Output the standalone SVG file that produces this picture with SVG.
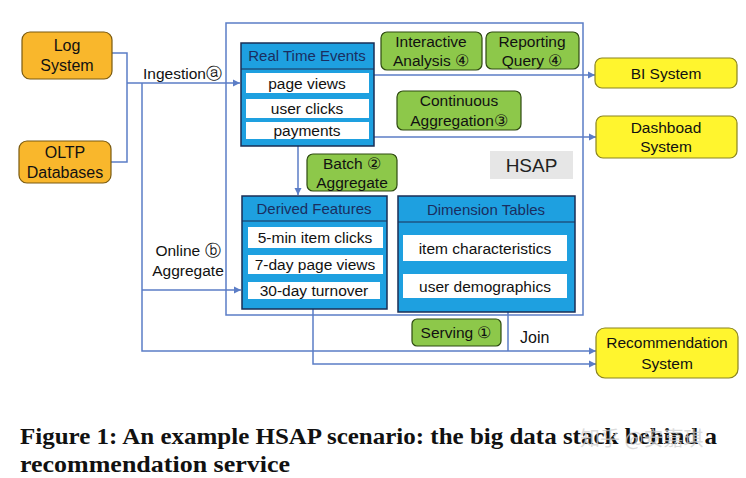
<svg xmlns="http://www.w3.org/2000/svg" width="746" height="478" viewBox="0 0 746 478">
<defs>
<marker id="arr" markerWidth="8" markerHeight="8" refX="7" refY="4" orient="auto" markerUnits="userSpaceOnUse">
<path d="M0,0.5 L7,4 L0,7.5 Z" fill="#5B7DC6"/>
</marker>
<style>
text{font-family:"Liberation Sans",Arial,sans-serif;fill:#111;}
.src rect{fill:#F9B72C;stroke:#7A5A10;stroke-width:1.2;}
.dst rect{fill:#FFF52E;stroke:#8A8420;stroke-width:1.2;}
.grn rect{fill:#8DC84A;stroke:#2E4A10;stroke-width:1.2;}
.tbl .outer{fill:#1EA0E0;stroke:#1A2E55;stroke-width:1.5;}
.tbl .row{fill:#fff;stroke:none;}
.tbl .hd{fill:#1A2E60;font-size:15px;}
.conn{fill:none;stroke:#5B7DC6;stroke-width:1.5;}
.t14{font-size:15.5px;}
.t15{font-size:16px;}
.mid{text-anchor:middle;}
.cap{font-family:"Liberation Serif","Times New Roman",serif;font-weight:bold;font-size:24px;fill:#111;}
</style>
</defs>
<rect width="746" height="478" fill="#fff"/>

<g id="hsap">
<rect x="226" y="23" width="357" height="292" fill="none" stroke="#5B7DC6" stroke-width="1.5"/>
<rect x="490" y="151" width="83" height="28" fill="#E6E6E6"/>
<text x="531.5" y="172" class="mid" style="font-size:19px;fill:#222">HSAP</text>
</g>

<g id="connectors">
<path class="conn" d="M112,53 H127 V162 H111"/>
<path class="conn" d="M127,83 H240" marker-end="url(#arr)"/>
<path class="conn" d="M142,83 V351 H596" marker-end="url(#arr)"/>
<path class="conn" d="M142,290 H241" marker-end="url(#arr)"/>
<path class="conn" d="M374,75 H595" marker-end="url(#arr)"/>
<path class="conn" d="M374,137 H596" marker-end="url(#arr)"/>
<path class="conn" d="M298,146 V195" marker-end="url(#arr)"/>
<path class="conn" d="M313,309 V364 H596" marker-end="url(#arr)"/>
<path class="conn" d="M508,312 V351"/>
<text x="143" y="79" class="t14">Ingestionⓐ</text>
<text x="188" y="256" class="t14 mid">Online ⓑ</text>
<text x="188" y="276" class="t14 mid">Aggregate</text>
<text x="520" y="343" class="t15">Join</text>
</g>

<g id="log" class="src">
<rect x="22" y="32" width="90" height="47" rx="8"/>
<text x="67" y="51" class="t15 mid">Log</text>
<text x="67" y="71" class="t15 mid">System</text>
</g>
<g id="oltp" class="src">
<rect x="19" y="141" width="92" height="42" rx="8"/>
<text x="65" y="158" class="t15 mid">OLTP</text>
<text x="65" y="178" class="t15 mid">Databases</text>
</g>

<g id="rte" class="tbl">
<rect class="outer" x="241" y="43" width="133" height="103"/>
<line x1="241" y1="69" x2="374" y2="69" stroke="#1A2E55" stroke-width="1.2"/>
<text x="307" y="61" class="mid hd">Real Time Events</text>
<rect class="row" x="246" y="73" width="123" height="20"/>
<rect class="row" x="246" y="99" width="123" height="19"/>
<rect class="row" x="246" y="122" width="123" height="17"/>
<text x="307" y="89" class="t14 mid">page views</text>
<text x="307" y="114" class="t14 mid">user clicks</text>
<text x="307" y="136" class="t14 mid">payments</text>
</g>

<g id="interactive" class="grn">
<rect x="381" y="32" width="101" height="38" rx="6"/>
<text x="431" y="47" class="t14 mid">Interactive</text>
<text x="431" y="66" class="t14 mid">Analysis ④</text>
</g>
<g id="reporting" class="grn">
<rect x="486" y="32" width="93" height="37" rx="6"/>
<text x="532" y="47" class="t14 mid">Reporting</text>
<text x="532" y="66" class="t14 mid">Query ④</text>
</g>
<g id="continuous" class="grn">
<rect x="397" y="91" width="124" height="39" rx="6"/>
<text x="459" y="106" class="t14 mid">Continuous</text>
<text x="459" y="126" class="t14 mid">Aggregation③</text>
</g>
<g id="batch" class="grn">
<rect x="307" y="154" width="90" height="37" rx="6"/>
<text x="352" y="169" class="t14 mid">Batch ②</text>
<text x="352" y="188" class="t14 mid">Aggregate</text>
</g>

<g id="derived" class="tbl">
<rect class="outer" x="242" y="196" width="145" height="113"/>
<line x1="242" y1="221" x2="387" y2="221" stroke="#1A2E55" stroke-width="1.2"/>
<text x="314" y="214" class="mid hd">Derived Features</text>
<rect class="row" x="248" y="227" width="135" height="21"/>
<rect class="row" x="248" y="255" width="135" height="19"/>
<rect class="row" x="248" y="282" width="132" height="17"/>
<text x="315" y="243" class="t14 mid">5-min item clicks</text>
<text x="315" y="270" class="t14 mid">7-day page views</text>
<text x="314" y="296" class="t14 mid">30-day turnover</text>
</g>

<g id="dimension" class="tbl">
<rect class="outer" x="398" y="196" width="177" height="116"/>
<line x1="398" y1="222" x2="575" y2="222" stroke="#1A2E55" stroke-width="1.2"/>
<text x="486" y="215" class="mid hd">Dimension Tables</text>
<rect class="row" x="403" y="235" width="164" height="26"/>
<rect class="row" x="403" y="274" width="164" height="24"/>
<text x="485" y="254" class="t14 mid">item characteristics</text>
<text x="485" y="292" class="t14 mid">user demographics</text>
</g>

<g id="serving" class="grn">
<rect x="412" y="319" width="89" height="27" rx="5"/>
<text x="456" y="338" class="t14 mid">Serving ①</text>
</g>

<g id="bi" class="dst">
<rect x="595" y="58" width="142" height="30" rx="7"/>
<text x="666" y="79" class="t14 mid">BI System</text>
</g>
<g id="dashboard" class="dst">
<rect x="596" y="116" width="141" height="42" rx="7"/>
<text x="666" y="133" class="t14 mid">Dashboad</text>
<text x="666" y="152" class="t14 mid">System</text>
</g>
<g id="recommendation" class="dst">
<rect x="596" y="328" width="142" height="50" rx="9"/>
<text x="667" y="348" class="t14 mid">Recommendation</text>
<text x="667" y="369" class="t14 mid">System</text>
</g>

<text x="20" y="444" class="cap" textLength="697" lengthAdjust="spacingAndGlyphs">Figure 1: An example HSAP scenario: the big data stack behind a</text>
<text x="20" y="472" class="cap" textLength="270" lengthAdjust="spacingAndGlyphs">recommendation service</text>
<text x="580" y="446" style="font-family:'Noto Sans CJK SC','Noto Sans',sans-serif;font-size:20px;fill:#d0d0d0;fill-opacity:0.75">知乎 @安嘉琪</text>
</svg>
